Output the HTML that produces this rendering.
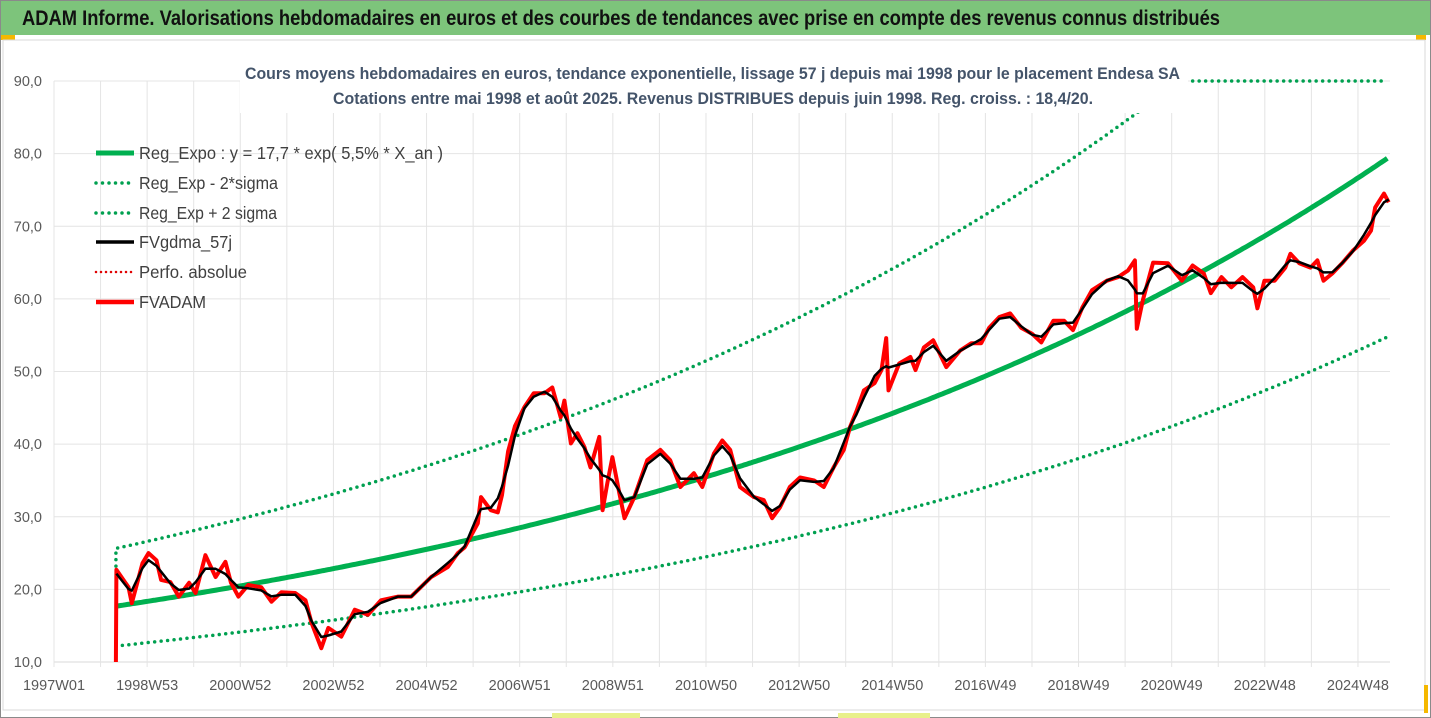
<!DOCTYPE html>
<html><head><meta charset="utf-8">
<style>
html,body{margin:0;padding:0;background:#fff;}
svg{display:block;font-family:"Liberation Sans Narrow","Liberation Sans",sans-serif;}
</style></head>
<body>
<svg id="chart" width="1431" height="718" viewBox="0 0 1431 718" xmlns="http://www.w3.org/2000/svg">
  <rect x="0" y="0" width="1431" height="718" fill="#fff"/>
  <rect x="0.5" y="0.5" width="1430" height="717" fill="none" stroke="#8a8a8a"/>
  <rect x="1" y="1" width="1429" height="34" fill="#7dc47b"/>
  <text x="22" y="25" font-size="21" font-weight="bold" fill="#111" textLength="1198" lengthAdjust="spacingAndGlyphs">ADAM Informe. Valorisations hebdomadaires en euros et des courbes de tendances avec prise en compte des revenus connus distribués</text>
  <rect x="1" y="35" width="14" height="5" fill="#f5b800"/>
  <rect x="1416" y="35" width="10" height="5" fill="#f5b800"/>
  <rect x="3" y="40" width="1422" height="670" fill="none" stroke="#d9d9d9"/>
  <rect x="1424" y="685" width="4" height="28" fill="#f5b800"/>
  <rect x="552" y="713" width="88" height="5" fill="#e8f08a"/>
  <rect x="838" y="713" width="92" height="5" fill="#e8f08a"/>
  <g id="grid"></g>
  <g id="axes"></g>
  <g id="series"></g>
  <rect x="240" y="57" width="948" height="56" fill="#fff"/>
  <text x="245" y="79" font-size="16.5" font-weight="bold" fill="#44546a" textLength="935" lengthAdjust="spacingAndGlyphs">Cours moyens hebdomadaires en euros, tendance exponentielle, lissage 57 j depuis mai 1998 pour le placement Endesa SA</text>
  <text x="333" y="104" font-size="16.5" font-weight="bold" fill="#44546a" textLength="760" lengthAdjust="spacingAndGlyphs">Cotations entre mai 1998 et août 2025. Revenus DISTRIBUES depuis juin 1998. Reg. croiss. : 18,4/20.</text>
  <g id="legend">
    <line x1="96" y1="153" x2="134" y2="153" stroke="#00b050" stroke-width="5"/>
    <text x="139" y="159" font-size="17.5" fill="#404040" textLength="304" lengthAdjust="spacingAndGlyphs">Reg_Expo : y = 17,7 * exp( 5,5% *  X_an )</text>
    <line x1="96" y1="183" x2="134" y2="183" stroke="#00a050" stroke-width="3.5" stroke-dasharray="0 6.5" stroke-linecap="round"/>
    <text x="139" y="189" font-size="17.5" fill="#404040" textLength="139" lengthAdjust="spacingAndGlyphs">Reg_Exp - 2*sigma</text>
    <line x1="96" y1="213" x2="134" y2="213" stroke="#00a050" stroke-width="3.5" stroke-dasharray="0 6.5" stroke-linecap="round"/>
    <text x="139" y="219" font-size="17.5" fill="#404040" textLength="138" lengthAdjust="spacingAndGlyphs">Reg_Exp + 2 sigma</text>
    <line x1="96" y1="242" x2="134" y2="242" stroke="#000" stroke-width="3.5"/>
    <text x="139" y="248" font-size="17.5" fill="#404040" textLength="93" lengthAdjust="spacingAndGlyphs">FVgdma_57j</text>
    <line x1="96" y1="272" x2="134" y2="272" stroke="#e00000" stroke-width="2.5" stroke-dasharray="0 5" stroke-linecap="round"/>
    <text x="139" y="278" font-size="17.5" fill="#404040" textLength="108" lengthAdjust="spacingAndGlyphs">Perfo. absolue</text>
    <line x1="96" y1="302" x2="134" y2="302" stroke="#ff0000" stroke-width="4.5"/>
    <text x="139" y="308" font-size="17.5" fill="#404040" textLength="67" lengthAdjust="spacingAndGlyphs">FVADAM</text>
  </g>
</svg>
<script>
const yTicks = [10,20,30,40,50,60,70,80,90];
const yTickLabels = ["10,0","20,0","30,0","40,0","50,0","60,0","70,0","80,0","90,0"];
const xTickLabels = ["1997W01","1998W53","2000W52","2002W52","2004W52","2006W51","2008W51","2010W50","2012W50","2014W50","2016W49","2018W49","2020W49","2022W48","2024W48"];
const regCoef = 17.7;
const regRate = 0.055;
const regStart = 1998.35;
const sigmaLow = 0.69;
const sigmaHigh = 1.45;
const fvYears = [1998.33,1998.34,1998.6,1998.67,1998.9,1999.03,1999.2,1999.3,1999.5,1999.68,1999.9,2000.04,2000.25,2000.47,2000.68,2000.8,2000.96,2001.17,2001.45,2001.67,2001.88,2002.18,2002.4,2002.53,2002.74,2002.89,2003.17,2003.46,2003.74,2004.02,2004.39,2004.67,2005.1,2005.46,2005.67,2005.82,2006.1,2006.17,2006.38,2006.53,2006.62,2006.75,2006.9,2007.1,2007.3,2007.53,2007.7,2007.88,2007.96,2008.1,2008.24,2008.39,2008.52,2008.71,2008.78,2008.88,2008.99,2009.14,2009.25,2009.46,2009.74,2010.02,2010.23,2010.45,2010.74,2010.92,2011.17,2011.35,2011.52,2011.73,2012.03,2012.24,2012.42,2012.59,2012.8,2013.02,2013.32,2013.53,2013.74,2013.96,2014.09,2014.23,2014.39,2014.62,2014.77,2014.87,2014.92,2015.15,2015.39,2015.5,2015.68,2015.88,2016.16,2016.46,2016.7,2016.91,2017.08,2017.3,2017.53,2017.77,2018.0,2018.2,2018.46,2018.69,2018.88,2019.08,2019.29,2019.61,2019.85,2020.06,2020.21,2020.25,2020.38,2020.6,2020.92,2021.22,2021.45,2021.69,2021.84,2022.07,2022.28,2022.52,2022.75,2022.84,2022.99,2023.21,2023.44,2023.55,2023.74,2023.98,2024.13,2024.26,2024.45,2024.66,2024.9,2025.13,2025.28,2025.37,2025.56,2025.66];
const fvValues = [10,22.7,20.3,18.1,23.6,25,24,21.3,21,19,20.9,19.5,24.7,21.7,23.8,20.9,19,20.6,20.3,18.3,19.6,19.5,18.5,15.4,11.9,14.7,13.5,17.2,16.5,18.5,19,19,21.7,23.1,25,25.8,29.1,32.7,30.9,30.6,33,39,42.5,45.1,47,47,47.8,43.7,46,40.1,41.5,39.6,36.8,41,30.9,34.6,38.2,33.2,29.8,32.7,37.8,39.2,37.8,34.1,36,34.1,38.7,40.5,39.2,34.1,32.7,32.3,29.8,31.3,34.1,35.4,35,34.1,36.8,39.2,42.3,44.5,47.4,48.4,50.2,54.6,47.4,51.1,52,50.2,53.3,54.3,50.6,52.9,53.9,53.9,56,57.5,58,56,55.2,54,57,57,55.7,58.8,61.2,62.5,63,63.9,65.3,55.9,59.8,65,64.9,62.5,64.6,63.5,60.8,63,61.6,63,61.6,58.7,62.5,62.5,64.3,66.2,64.9,64.3,65.3,62.5,63.5,64.9,66.7,68,69.4,72.6,74.5,73.3];

const NS = "http://www.w3.org/2000/svg";
const X0 = 54, XSTEP = 46.57, XEND = 1390;
const yMin = 10, yMax = 90, yBottom = 662, yTop = 81;
function xScale(t){ return X0 + (t - 1997) * XSTEP; }
function yScale(v){ return yBottom - (v - yMin) / (yMax - yMin) * (yBottom - yTop); }
function mk(tag, attrs, parent){
  const el = document.createElementNS(NS, tag);
  for (const k in attrs) el.setAttribute(k, attrs[k]);
  parent.appendChild(el);
  return el;
}
const grid = document.getElementById('grid');
const axes = document.getElementById('axes');
const series = document.getElementById('series');

yTicks.forEach((v, i) => {
  const ln = mk('line', {x1: X0, x2: XEND, y1: yScale(v), y2: yScale(v), stroke: i === 0 ? '#d9d9d9' : '#e4e4e4', 'stroke-width': 1}, grid);
  
  
  const tx = mk('text', {x: 42, y: yScale(v) + 5, 'text-anchor': 'end', 'font-size': 14.5, fill: '#595959'}, axes);
  tx.textContent = yTickLabels[i];
  
  
});
for (let k = 0; k <= 28; k++) {
  const x = X0 + k * XSTEP;
  const ln = mk('line', {x1: x, x2: x, y1: yTop, y2: yBottom + 5, stroke: '#e4e4e4', 'stroke-width': 1}, grid);
  
  
}
xTickLabels.forEach((lab, i) => {
  const tx = mk('text', {x: X0 + 2 * i * XSTEP, y: 690, 'text-anchor': 'middle', 'font-size': 14.5, fill: '#595959'}, axes);
  tx.textContent = lab;
  
  
});

const tStart = fvYears[0], tEnd = fvYears[fvYears.length - 1];
function bandPath(mult, clip){
  let d = '';
  for (let t = tStart; t <= tEnd + 1e-9; t += 0.05) {
    let v = mult * regCoef * Math.exp(regRate * (t - regStart));
    if (clip) v = Math.min(v, yMax);
    d += (d ? 'L' : 'M') + xScale(t).toFixed(1) + ',' + yScale(v).toFixed(1);
  }
  return d;
}
const upper = mk('path', {d: 'M' + xScale(tStart) + ',' + yScale(regCoef*sigmaLow*1.9) + bandPath(sigmaHigh, true).replace(/^M/, 'L'), fill: 'none', stroke: '#00a050', 'stroke-width': 3.5, 'stroke-dasharray': '0 6.5', 'stroke-linecap': 'round'}, series);


const lower = mk('path', {d: bandPath(sigmaLow, true), fill: 'none', stroke: '#00a050', 'stroke-width': 3.5, 'stroke-dasharray': '0 6.5', 'stroke-linecap': 'round'}, series);


const reg = mk('path', {d: bandPath(1, true), fill: 'none', stroke: '#00b050', 'stroke-width': 5}, series);



let dRed = '';
fvYears.forEach((t, i) => { dRed += (i ? 'L' : 'M') + xScale(t).toFixed(1) + ',' + yScale(fvValues[i]).toFixed(1); });
let dBlack = '';
for (let i = 1; i < fvYears.length; i++) {
  let s = 0, w = 0;
  for (let j = 1; j < fvYears.length; j++) {
    const dt = Math.abs(fvYears[j] - fvYears[i]);
    if (dt <= 0.32) { const ww = 1 - dt / 0.36; s += fvValues[j] * ww; w += ww; }
  }
  dBlack += (i > 1 ? 'L' : 'M') + xScale(fvYears[i]).toFixed(1) + ',' + yScale(s / w).toFixed(1);
}
const red = mk('path', {d: dRed, fill: 'none', stroke: '#ff0000', 'stroke-width': 4, 'stroke-linejoin': 'round'}, series);


const black = mk('path', {d: dBlack, fill: 'none', stroke: '#000', 'stroke-width': 2.5, 'stroke-linejoin': 'round'}, series);


</script>
</body></html>
